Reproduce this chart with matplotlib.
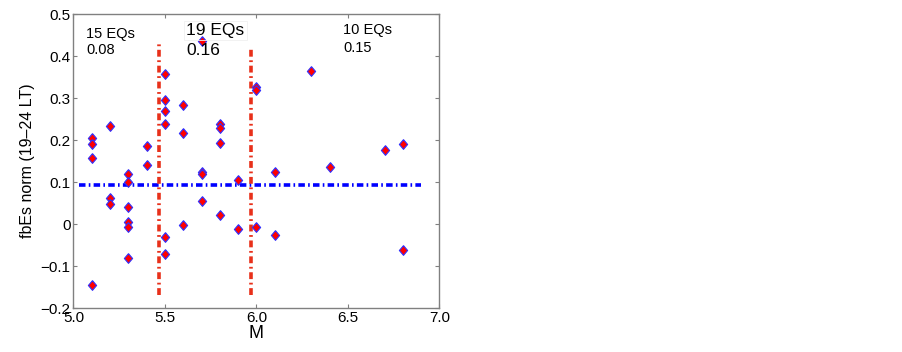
import matplotlib
matplotlib.use('Agg')
import matplotlib.pyplot as plt
import numpy as np

# magnitude and normalised fbEs values, grouped by M
mag = [5.1, 5.1, 5.1, 5.1,
       5.2, 5.2, 5.2,
       5.3, 5.3, 5.3, 5.3, 5.3, 5.3,
       5.4, 5.4,
       5.5, 5.5, 5.5, 5.5, 5.5, 5.5,
       5.6, 5.6, 5.6,
       5.7, 5.7, 5.7, 5.7,
       5.8, 5.8, 5.8, 5.8,
       5.9, 5.9,
       6.0, 6.0, 6.0,
       6.1, 6.1,
       6.3, 6.4, 6.7,
       6.8, 6.8]
fbes = [0.204, 0.190, 0.157, -0.146,
        0.234, 0.063, 0.048,
        0.120, 0.101, 0.041, 0.005, -0.006, -0.081,
        0.185, 0.141,
        0.357, 0.296, 0.269, 0.239, -0.031, -0.071,
        0.283, 0.217, -0.002,
        0.437, 0.125, 0.119, 0.055,
        0.238, 0.228, 0.193, 0.021,
        0.104, -0.013,
        0.326, 0.319, -0.006,
        0.125, -0.027,
        0.364, 0.135, 0.177,
        0.190, -0.063]

mean_level = 0.0935
mean_span = [5.03, 6.9]
split_m = [5.47, 5.97]
split_top = [0.43, 0.418]
split_bottom = [-0.17, -0.168]

group_labels = ['15 EQs', '19 EQs', '10 EQs']
group_values = ['0.08', '0.16', '0.15']

plt.rcParams['font.family'] = ['Liberation Sans', 'DejaVu Sans']

fig = plt.figure(figsize=(9.02, 3.52), dpi=100)
ax = fig.add_axes([0.0814, 0.125, 0.4058, 0.835])

# MATLAB-like dash-dot: short dash, gap, dot, gap
ax.plot(mean_span, [mean_level, mean_level], color='#0000ff', lw=2.6,
        linestyle=(0, (1.8, 0.9, 0.45, 0.9)), zorder=2)
for xm, top, bot in zip(split_m, split_top, split_bottom):
    ax.plot([xm, xm], [bot, top], color='#e8301a', lw=2.6,
            linestyle=(0, (1.9, 1.0, 0.5, 1.0)), zorder=2)

diamond = [(0, 1), (0.85, 0), (0, -1), (-0.85, 0), (0, 1)]
ax.plot(mag, fbes, linestyle='none', marker=diamond, markersize=7,
        markerfacecolor='#ff0000', markeredgecolor='#3030ff',
        markeredgewidth=0.8, zorder=3)

ax.text(5.069, 0.444, group_labels[0], fontsize=10.5)
ax.text(5.069, 0.404, group_values[0], fontsize=10.5)
ax.text(5.617, 0.450, group_labels[1], fontsize=12.5,
        bbox=dict(facecolor='none', edgecolor='#f0f0f0', lw=0.6, pad=1.5))
ax.text(5.617, 0.402, group_values[1], fontsize=12.5)
ax.text(6.475, 0.452, group_labels[2], fontsize=10.5)
ax.text(6.475, 0.410, group_values[2], fontsize=10.5)

ax.set_xlim(5.0, 7.0)
ax.set_ylim(-0.2, 0.5)
ax.set_xticks(np.arange(5.0, 7.01, 0.5))
ax.set_xticklabels(['5.0', '5.5', '6.0', '6.5', '7.0'])
ax.set_yticks(np.arange(-0.2, 0.51, 0.1))
ax.set_yticklabels(['\u22120.2', '\u22120.1', '0', '0.1', '0.2', '0.3', '0.4', '0.5'])
ax.tick_params(direction='in', top=True, right=True, length=3,
               color='#808080', labelsize=11, pad=2)
for s in ax.spines.values():
    s.set_color('#808080')
    s.set_linewidth(1.0)

ax.set_xlabel('M', fontsize=13, labelpad=0)
ax.set_ylabel('fbEs norm (19\u201324 LT)', fontsize=11.5, labelpad=4)

fig.savefig('out.png', dpi=100)
